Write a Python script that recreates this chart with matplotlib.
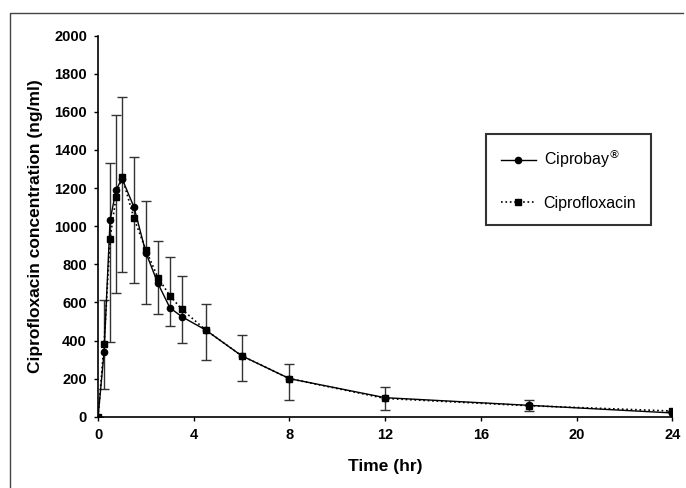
import matplotlib.pyplot as plt
from matplotlib.lines import Line2D
import numpy as np

plt.rcParams['font.family'] = ['Liberation Sans', 'DejaVu Sans']

# sampling times (hr)
time = [0, 0.25, 0.5, 0.75, 1, 1.5, 2, 2.5, 3, 3.5, 4.5, 6, 8, 12, 18, 24]
# mean concentrations (ng/ml)
ciprobay = [0, 340, 1030, 1190, 1250, 1100, 860, 700, 572, 525, 455, 320, 200, 100, 60, 20]
ciproflox = [0, 382, 933, 1155, 1260, 1041, 875, 730, 635, 564, 455, 320, 200, 96, 58, 30]
# error bar ends
err_top = [0, 615, 1330, 1585, 1680, 1365, 1130, 920, 840, 740, 592, 430, 277, 154, 90, 30]
err_bot = [0, 145, 393, 652, 760, 700, 591, 539, 478, 389, 298, 187, 86, 35, 30, 30]

xticks = [0, 4, 8, 12, 16, 20, 24]
yticks = list(range(0, 2001, 200))

fig = plt.figure(figsize=(6.86, 4.88), dpi=100)
ax = fig.add_axes([0.143, 0.146, 0.837, 0.781])

c = np.array(ciproflox)
yerr = [c - np.array(err_bot), np.array(err_top) - c]
ax.errorbar(time, c, yerr=yerr, fmt='none', ecolor='#333333', elinewidth=1.0,
            capsize=3.5, capthick=1.0, zorder=2)

ax.plot(time, ciprobay, '-', color='black', lw=1.0, marker='o', ms=4.5,
        label='Ciprobay$^{\\circledR}$', zorder=3)
ax.plot(time, ciproflox, ':', color='black', lw=1.2, marker='s', ms=5,
        label='Ciprofloxacin', zorder=3)

ax.set_xlim(0, 24)
ax.set_ylim(0, 2000)
ax.set_xticks(xticks)
ax.set_yticks(yticks)
for lab in ax.get_xticklabels() + ax.get_yticklabels():
    lab.set_fontweight('bold')
    lab.set_fontsize(10.5)
ax.tick_params(length=3, width=1, pad=5)
ax.spines['top'].set_visible(False)
ax.spines['right'].set_visible(False)
ax.spines['left'].set_linewidth(1.2)
ax.spines['bottom'].set_linewidth(1.2)

ax.set_xlabel('Time (hr)', fontsize=12.5, fontweight='bold', labelpad=12)
ax.set_ylabel('Ciprofloxacin concentration (ng/ml)', fontsize=12.5, fontweight='bold', labelpad=8)

leg = ax.legend(loc='upper left', bbox_to_anchor=(0.676, 0.743), borderaxespad=0,
                fontsize=11.5, frameon=True, fancybox=False, borderpad=0.9,
                labelspacing=1.6, handlelength=2.2, handletextpad=0.5)
leg.get_frame().set_edgecolor('black')
leg.get_frame().set_linewidth(1.5)

# outer frame (only top and left edges are visible in the picture)
fig.lines.append(Line2D([0.0146, 0.0146, 0.996], [0.0, 0.973, 0.973],
                        transform=fig.transFigure, color='#444444', lw=1.0))

fig.savefig('out.png', dpi=100)
